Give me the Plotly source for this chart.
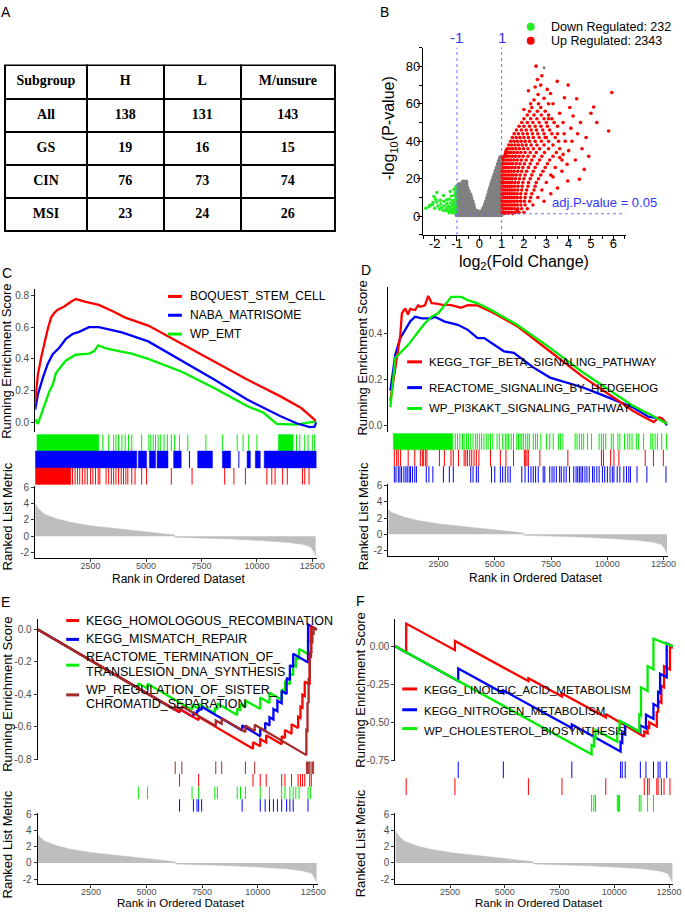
import plotly.graph_objects as go

W, H = 685, 913
def X(px): return px / W
def Y(py): return 1 - py / H

# ---------------- DATA ----------------
TABLE_HEADER = ["Subgroup", "H", "L", "M/unsure"]
TABLE_GROUPS = ["All", "GS", "CIN", "MSI"]
TABLE_H = [138, 19, 76, 23]
TABLE_L = [131, 16, 73, 24]
TABLE_M = [143, 15, 74, 26]

DOWN_N, UP_N = 232, 2343
FC_CUT = 1
P_LINE = 1.3  # -log10(0.05)
VOLC_XTICKS = [-2, -1, 0, 1, 2, 3, 4, 5, 6]
VOLC_YTICKS = [0, 20, 40, 60, 80]

VOLC_GRAY = (
    [(x, 0.8) for x in [-1.0, -0.85, -0.7, -0.55, -0.4, -0.25, -0.12, 0.0]] +
    [(x, 2.5) for x in [-0.95, -0.8, -0.65, -0.5, -0.35, -0.2, -0.08]] +
    [(x, 4.3) for x in [-1.0, -0.85, -0.7, -0.55, -0.4, -0.25]] +
    [(x, 6.1) for x in [-0.95, -0.8, -0.65, -0.5, -0.35, -0.28]] +
    [(x, 7.9) for x in [-1.0, -0.85, -0.7, -0.55, -0.4, -0.32]] +
    [(x, 9.7) for x in [-0.95, -0.8, -0.65, -0.5, -0.38]] +
    [(x, 11.5) for x in [-1.0, -0.85, -0.7, -0.55, -0.42]] +
    [(x, 13.3) for x in [-0.95, -0.8, -0.65, -0.5]] +
    [(x, 15.1) for x in [-0.98, -0.85, -0.7, -0.56]] +
    [(x, 16.9) for x in [-0.9, -0.75, -0.6]] +
    [(x, 18.3) for x in [-0.72, -0.6]] +
    [(x, 0.8) for x in [0.12, 0.27, 0.42, 0.57, 0.72, 0.87, 0.98]] +
    [(x, 2.5) for x in [0.12, 0.25, 0.4, 0.55, 0.7, 0.85, 0.98]] +
    [(x, 4.3) for x in [0.2, 0.33, 0.48, 0.63, 0.78, 0.92]] +
    [(x, 6.1) for x in [0.27, 0.4, 0.55, 0.7, 0.85, 0.98]] +
    [(x, 7.9) for x in [0.32, 0.45, 0.6, 0.75, 0.9]] +
    [(x, 9.7) for x in [0.37, 0.5, 0.65, 0.8, 0.95]] +
    [(x, 11.5) for x in [0.42, 0.55, 0.7, 0.85, 0.98]] +
    [(x, 13.3) for x in [0.46, 0.6, 0.75, 0.9]] +
    [(x, 15.1) for x in [0.5, 0.64, 0.78, 0.93]] +
    [(x, 16.9) for x in [0.55, 0.68, 0.82, 0.96]] +
    [(x, 18.7) for x in [0.6, 0.73, 0.87, 0.98]] +
    [(x, 20.5) for x in [0.65, 0.78, 0.92]] +
    [(x, 22.3) for x in [0.7, 0.83, 0.96]] +
    [(x, 24.1) for x in [0.75, 0.88, 0.98]] +
    [(x, 25.9) for x in [0.8, 0.93]] +
    [(x, 27.7) for x in [0.85, 0.97]] +
    [(x, 29.5) for x in [0.9, 0.98]] +
    [(0.95, 31.3)]
)
VOLC_GRAY_OUTLIER = [(2.9, 79.3)]

VOLC_GREEN = [(-2.39, 4.3), (-2.25, 5.0), (-2.21, 5.8), (-2.1, 6.2), (-2.07, 7.3), (-2.0, 4.2),
              (-1.96, 9.1), (-1.9, 12.6), (-2.03, 10.5), (-1.85, 5.5), (-1.78, 3.9), (-1.72, 6.5),
              (-1.68, 4.8), (-1.62, 3.2), (-1.58, 8.0), (-1.55, 5.6), (-1.5, 2.9), (-1.47, 4.1),
              (-1.44, 6.8), (-1.4, 3.3), (-1.38, 5.2), (-1.35, 9.0), (-1.33, 2.5), (-1.3, 4.5),
              (-1.28, 7.0), (-1.25, 10.8), (-1.24, 3.0), (-1.22, 5.6), (-1.2, 8.2), (-1.18, 2.2),
              (-1.16, 4.0), (-1.15, 6.3), (-1.13, 14.4), (-1.12, 11.0), (-1.11, 3.2), (-1.1, 7.4),
              (-1.08, 5.0), (-1.07, 12.5), (-1.06, 9.0), (-1.05, 2.6), (-1.04, 16.0), (-1.03, 6.5),
              (-1.02, 4.0), (-1.01, 13.5), (-1.01, 10.0), (-1.3, 13.2), (-1.45, 8.8), (-1.6, 11.0),
              (-1.75, 8.5), (-1.9, 7.6), (-1.1, 2.0), (-1.2, 1.8), (-1.35, 1.9), (-1.06, 3.8)]

VOLC_RED_ROWS = {
    2: [1.02, 1.1, 1.18, 1.27, 1.36, 1.47, 1.6, 1.78, 2.0],
    4: [1.02, 1.1, 1.18, 1.27, 1.36, 1.46, 1.58, 1.72, 1.9, 2.15],
    6: [1.02, 1.1, 1.18, 1.27, 1.36, 1.46, 1.57, 1.7, 1.86, 2.05, 2.4],
    8: [1.02, 1.1, 1.18, 1.27, 1.36, 1.46, 1.57, 1.7, 1.85, 2.02, 2.25],
    10: [1.02, 1.1, 1.18, 1.27, 1.36, 1.46, 1.57, 1.7, 1.85, 2.05, 2.3, 2.62],
    12: [1.02, 1.1, 1.18, 1.27, 1.36, 1.46, 1.57, 1.7, 1.86, 2.08, 2.35],
    14: [1.02, 1.1, 1.18, 1.27, 1.36, 1.46, 1.57, 1.72, 1.9, 2.12, 2.45, 2.8],
    16: [1.02, 1.1, 1.18, 1.27, 1.36, 1.46, 1.58, 1.73, 1.92, 2.18, 2.5],
    18: [1.02, 1.1, 1.18, 1.27, 1.36, 1.46, 1.6, 1.75, 1.95, 2.2, 2.55, 3.0],
    20: [1.02, 1.1, 1.18, 1.27, 1.36, 1.47, 1.62, 1.8, 2.0, 2.28, 2.65],
    22: [1.02, 1.1, 1.19, 1.29, 1.4, 1.52, 1.66, 1.83, 2.05, 2.35, 2.75, 3.2],
    24: [1.02, 1.1, 1.2, 1.31, 1.43, 1.56, 1.72, 1.9, 2.12, 2.42, 2.85],
    26: [1.03, 1.12, 1.22, 1.33, 1.46, 1.6, 1.76, 1.95, 2.2, 2.5, 2.95, 3.4],
    28: [1.05, 1.15, 1.26, 1.38, 1.5, 1.65, 1.82, 2.02, 2.28, 2.6, 3.05],
    30: [1.08, 1.18, 1.3, 1.42, 1.55, 1.7, 1.88, 2.1, 2.35, 2.7, 3.15, 3.7],
    32: [1.12, 1.23, 1.35, 1.48, 1.62, 1.78, 1.96, 2.18, 2.45, 2.8, 3.3],
    34: [1.18, 1.3, 1.42, 1.55, 1.7, 1.86, 2.05, 2.28, 2.55, 2.92, 3.45],
    36: [1.25, 1.37, 1.5, 1.64, 1.8, 1.98, 2.18, 2.42, 2.7, 3.1, 3.6],
    38: [1.32, 1.45, 1.6, 1.75, 1.92, 2.1, 2.32, 2.58, 2.9, 3.3],
    40: [1.4, 1.55, 1.7, 1.87, 2.05, 2.25, 2.5, 2.78, 3.1, 3.55],
    42: [1.48, 1.65, 1.82, 2.0, 2.2, 2.42, 2.68, 3.0, 3.4],
    44: [1.56, 1.75, 1.95, 2.15, 2.38, 2.62, 2.9, 3.25, 3.8],
    46: [1.66, 1.88, 2.1, 2.32, 2.56, 2.84, 3.15],
    48: [1.78, 2.0, 2.25, 2.5, 2.76, 3.05, 3.5],
    50: [1.9, 2.15, 2.4, 2.68, 3.0, 3.35],
    52: [2.0, 2.3, 2.58, 2.9, 3.25],
    54: [2.15, 2.45, 2.78, 3.1],
    56: [2.25, 2.6, 2.95],
    58: [2.35, 2.75],
    60: [2.3, 2.65, 3.1],
}
VOLC_RED_SCATTER = [(2.54, 80.1), (2.6, 73), (2.8, 75), (2.75, 70), (3.49, 72), (3.98, 70), (2.2, 67),
                    (2.63, 65), (3.04, 67.7), (5.93, 66), (3.19, 65.5), (4.36, 62.7), (3.81, 63.2),
                    (5.12, 58.3), (5.26, 50), (5.79, 45.5), (4.78, 42), (4.53, 50), (4.2, 53.5), (4.1, 47),
                    (4.48, 19.7), (3.96, 18.8), (3.93, 27.7), (3.6, 31.3), (4.6, 36), (4.3, 30), (3.7, 24),
                    (3.5, 44), (3.85, 40), (4.0, 35), (3.2, 12), (3.5, 15), (2.9, 8), (3.3, 21), (3.6, 55),
                    (3.3, 60), (2.45, 62), (2.9, 63), (4.05, 58), (3.75, 50), (4.4, 44), (4.9, 32), (5.0, 55),
                    (2.0, 57), (2.5, 69), (3.1, 52), (2.95, 42), (4.7, 25), (3.75, 33), (4.15, 40),
                    (1.15, 1.5), (1.3, 1.6), (1.5, 1.4), (1.7, 2.8), (1.06, 31.5), (1.2, 35), (1.16, 33)]

# Ranked list metric (shared by all GSEA panels)
METRIC_RANK = [0, 200, 420, 1010, 1600, 2560, 3820, 5000, 6290, 6300, 7500, 8800, 10150, 11300, 12050, 12420, 12570, 12650]
METRIC_VAL = [4.0, 3.2, 2.7, 2.1, 1.7, 1.27, 0.9, 0.57, 0.16, -0.12, -0.2, -0.33, -0.53, -0.73, -0.98, -1.27, -1.9, -2.4]
RANK_TICKS = [2500, 5000, 7500, 10000, 12500]
METRIC_TICKS = [-2, 0, 2, 4, 6]

# Panel C
C_NAMES = ["BOQUEST_STEM_CELL", "NABA_MATRISOME", "WP_EMT"]
C_RED_R = [0, 122, 272, 420, 569, 718, 867, 1016, 1313, 1610, 1832, 2278, 2871, 3500, 4061, 5100, 6586, 8073, 9559, 11044, 12000, 12650]
C_RED_ES = [0.13, 0.30, 0.41, 0.505, 0.59, 0.66, 0.69, 0.71, 0.73, 0.76, 0.777, 0.76, 0.74, 0.70, 0.66, 0.61, 0.495, 0.38, 0.27, 0.165, 0.09, 0.01]
C_BLUE_R = [0, 122, 345, 569, 790, 1088, 1386, 1683, 1981, 2427, 2871, 3911, 5100, 6586, 8073, 9559, 11044, 11787, 12381, 12604, 12680]
C_BLUE_ES = [0.08, 0.175, 0.28, 0.37, 0.43, 0.47, 0.526, 0.557, 0.57, 0.60, 0.60, 0.567, 0.51, 0.39, 0.27, 0.144, 0.04, -0.006, -0.03, -0.027, 0.0]
C_GREEN_R = [0, 122, 272, 420, 642, 790, 939, 1162, 1386, 1832, 2427, 2650, 2845, 3172, 3614, 4358, 5100, 6586, 8073, 9559, 10300, 10895, 11787, 12381, 12680]
C_GREEN_ES = [0.02, -0.01, 0.05, 0.11, 0.196, 0.237, 0.31, 0.35, 0.39, 0.426, 0.433, 0.447, 0.485, 0.468, 0.453, 0.433, 0.40, 0.32, 0.216, 0.103, 0.06, -0.01, -0.014, 0.0, 0.005]
C_GREEN_HITS = [3049, 3316, 3539, 3643, 3762, 3911, 4059, 4208, 4357, 4802, 5129, 5218, 5323, 5427, 5545, 5664, 5813, 5961,
                6140, 6288, 6511, 6883, 7700, 8443, 9112, 9379, 9632, 10003, 11787, 11935, 12158, 12307, 12500, 12604]
C_GREEN_BLOCKS = [(80, 2870), (10969, 11638)]
C_BLUE_HITS = [6957, 9186]
C_BLUE_BLOCKS = [(0, 4580), (4654, 5025), (5150, 5430), (5500, 5991), (6244, 6586), (7329, 7997), (8443, 8815),
                 (9558, 9706), (9929, 10152), (10330, 12680)]
C_RED_HITS = [1682, 1801, 1905, 2009, 2128, 2246, 2351, 2499, 2603, 2722, 2841, 2915, 3198, 3316, 3435, 3539, 3643, 3762,
              3881, 3985, 4089, 4178, 4357, 4505, 4802, 5025, 6140, 7076, 8547, 8963, 9483, 10449, 10672, 10821, 11162,
              11371, 12054, 12158, 12351]
C_RED_BLOCKS = [(0, 1608)]

# Panel D
D_NAMES = ["KEGG_TGF_BETA_SIGNALING_PATHWAY", "REACTOME_SIGNALING_BY_HEDGEHOG", "WP_PI3KAKT_SIGNALING_PATHWAY"]
D_RED_R = [367, 587, 806, 879, 1025, 1150, 1250, 1464, 1600, 1683, 1902, 2049, 2200, 2341, 2633, 3072, 3500, 3803, 4242, 4973, 5996, 7458, 8920, 10382, 11113, 11625, 12063, 12300, 12429, 12648]
D_RED_ES = [0.107, 0.25, 0.39, 0.486, 0.507, 0.48, 0.505, 0.50, 0.52, 0.514, 0.52, 0.561, 0.53, 0.529, 0.523, 0.521, 0.51, 0.521, 0.52, 0.486, 0.43, 0.32, 0.21, 0.114, 0.064, 0.036, 0.014, 0.035, 0.03, 0.007]
D_BLUE_R = [367, 587, 806, 1025, 1245, 1464, 1756, 2195, 2341, 2780, 3364, 3803, 4242, 4534, 4973, 5411, 5850, 6727, 7458, 8189, 8920, 9651, 10382, 11113, 11844, 12429, 12648]
D_BLUE_ES = [0.15, 0.307, 0.378, 0.414, 0.45, 0.471, 0.464, 0.464, 0.471, 0.45, 0.436, 0.414, 0.378, 0.378, 0.35, 0.321, 0.314, 0.25, 0.207, 0.186, 0.164, 0.136, 0.107, 0.079, 0.036, 0.029, 0.0]
D_GREEN_R = [367, 587, 879, 1172, 1611, 1902, 2195, 2487, 2780, 3072, 3511, 3803, 4242, 4973, 5996, 7458, 8920, 10382, 11113, 11844, 12648]
D_GREEN_ES = [0.079, 0.293, 0.321, 0.35, 0.407, 0.443, 0.471, 0.486, 0.521, 0.557, 0.557, 0.543, 0.529, 0.493, 0.436, 0.336, 0.229, 0.136, 0.086, 0.05, 0.007]
D_GREEN_HITS = [3248, 3351, 3453, 3570, 3643, 3745, 3833, 3935, 4038, 4155, 4228, 4330, 4418, 4520, 4622, 4710, 4813, 4915,
                5105, 5207, 5354, 5471, 5544, 5617, 5734, 5836, 5982, 6055, 6128, 6201, 6274, 6377, 6465, 6538, 6713, 6816,
                6903, 7049, 7298, 7444, 7598, 7839, 7927, 8029, 8570, 8657, 8760, 8862, 8950, 9125, 9301, 9637, 9739, 9827,
                9929, 10178, 10266, 10470, 10558, 10763, 10909, 11000, 11099, 11289, 11392, 11611, 11932, 12020, 12122,
                12225, 12415, 12634]
D_GREEN_BLOCKS = [(500, 3131)]
D_RED_HITS = [543, 646, 719, 821, 1158, 1450, 1698, 1786, 1845, 1932, 1991, 2546, 2766, 3058, 3160, 3394, 3643, 3716, 3789,
              3891, 3979, 4082, 4184, 4301, 4813, 5251, 5500, 5836, 6318, 6377, 6435, 6494, 7006, 8248, 9739, 9827, 10149,
              10295, 10514, 11684, 12049, 12488]
D_BLUE_HITS = [543, 617, 719, 792, 865, 967, 1055, 1114, 1201, 1260, 1348, 1450, 1523, 1962, 2079, 2254, 2722, 2985, 3160,
               3935, 4038, 4184, 4272, 4856, 5003, 5251, 5354, 5471, 5588, 5690, 6201, 6348, 6494, 6611, 6713, 6816, 6933,
               7152, 7225, 7444, 7547, 7634, 7737, 7883, 7956, 8073, 8175, 8321, 8511, 8614, 8687, 8760, 8833, 8906, 9009,
               9096, 9198, 9345, 9418, 9535, 9637, 9783, 9885, 10003, 10120, 10222, 10295, 10441, 10558, 10734, 10851,
               10953, 11026, 11319, 11757, 12605]

# Panel E
E_NAMES = ["KEGG_HOMOLOGOUS_RECOMBINATION", "KEGG_MISMATCH_REPAIR",
           "REACTOME_TERMINATION_OF_<br>TRANSLESION_DNA_SYNTHESIS", "WP_REGULATION_OF_SISTER_<br>CHROMATID_SEPARATION"]
E_BROWN_R = [113, 6291, 6291, 6589, 6589, 8114, 8114, 8381, 8381, 9447, 9447, 9864, 9864, 12189, 12189, 12240, 12240,
             12290, 12290, 12340, 12340, 12400, 12400, 12460, 12460, 12514, 12514, 12660]
E_BROWN_ES = [0, -0.499, -0.474, -0.498, -0.473, -0.596, -0.561, -0.582, -0.547, -0.633, -0.593, -0.627, -0.587, -0.775,
              -0.62, -0.624, -0.45, -0.454, -0.30, -0.304, -0.17, -0.175, -0.08, -0.085, -0.02, -0.024, 0.01, 0.0]
E_RED_R = [113, 6486, 6486, 7344, 7344, 9789, 9789, 10114, 10114, 10381, 10381, 11078, 11078, 11226, 11226, 11522, 11522,
           11819, 11819, 11922, 11922, 12011, 12011, 12115, 12115, 12337, 12337, 12411, 12411, 12660]
E_RED_ES = [0, -0.5105, -0.4905, -0.5592, -0.5392, -0.735, -0.695, -0.721, -0.676, -0.697, -0.652, -0.708, -0.658, -0.670,
            -0.620, -0.644, -0.584, -0.608, -0.538, -0.546, -0.476, -0.483, -0.403, -0.411, -0.321, -0.339, -0.139,
            -0.145, 0.015, 0.0]
E_BLUE_R = [113, 6486, 6486, 7108, 7108, 7270, 7270, 7344, 7344, 7478, 7478, 9300, 9300, 10114, 10114, 10336, 10336,
            10530, 10530, 10707, 10707, 10885, 10885, 11078, 11078, 11300, 11300, 11448, 11448, 11596, 11596, 12264,
            12264, 12660]
E_BLUE_ES = [0, -0.5105, -0.49, -0.54, -0.51, -0.523, -0.50, -0.506, -0.486, -0.497, -0.477, -0.623, -0.593, -0.658,
             -0.608, -0.626, -0.576, -0.592, -0.542, -0.556, -0.49, -0.504, -0.44, -0.455, -0.38, -0.398, -0.30, -0.312,
             -0.22, -0.232, -0.15, -0.2035, 0.03, 0.0]
E_GREEN_R = [113, 4633, 4633, 5048, 5048, 7047, 7047, 7344, 7344, 8070, 8070, 8189, 8189, 9078, 9078, 9226, 9226, 9447,
             9447, 10114, 10114, 10530, 10530, 11078, 11078, 11226, 11226, 11448, 11448, 11596, 11596, 11714, 11714,
             11863, 11863, 12264, 12264, 12367, 12367, 12660]
E_GREEN_ES = [0, -0.362, -0.332, -0.365, -0.335, -0.495, -0.465, -0.489, -0.459, -0.517, -0.482, -0.492, -0.457, -0.528,
              -0.488, -0.500, -0.460, -0.478, -0.438, -0.491, -0.42, -0.453, -0.39, -0.434, -0.37, -0.382, -0.32, -0.338,
              -0.27, -0.282, -0.22, -0.229, -0.17, -0.182, -0.12, -0.152, -0.07, -0.078, 0.01, 0.0]
E_BROWN_HITS = [6291, 6589, 8114, 8381, 9447, 9864, 12189, 12240, 12290, 12340, 12400, 12460, 12514]
E_RED_HITS = [6486, 7344, 9789, 10114, 10381, 11078, 11226, 11522, 11819, 11922, 12011, 12115, 12337, 12411]
E_GREEN_HITS = [4633, 5048, 7047, 7344, 8070, 8189, 9078, 9226, 9447, 10114, 10530, 11078, 11226, 11448, 11596, 11714,
                11863, 12264, 12367]
E_BLUE_HITS = [6486, 7108, 7270, 7344, 7478, 9300, 10114, 10336, 10530, 10707, 10885, 11078, 11300, 11448, 11596, 12264]

# Panel F
F_NAMES = ["KEGG_LINOLEIC_ACID_METABOLISM", "KEGG_NITROGEN_METABOLISM", "WP_CHOLESTEROL_BIOSYNTHESIS"]
F_RED_R = [0, 496, 496, 2721, 2721, 6076, 6076, 7609, 7609, 9608, 9608, 11367, 11367, 11518, 11518, 11592, 11592, 11938,
           11938, 11998, 11998, 12148, 12148, 12269, 12269, 12540, 12540, 12680]
F_RED_ES = [0, -0.039, 0.15, -0.025, 0.035, -0.229, -0.21, -0.331, -0.31, -0.467, -0.445, -0.595, -0.56, -0.572, -0.53,
            -0.536, -0.50, -0.528, -0.43, -0.435, -0.36, -0.372, -0.26, -0.27, -0.13, -0.152, 0.0, -0.01]
F_BLUE_R = [0, 2872, 2872, 4931, 4931, 8058, 8058, 10285, 10285, 10360, 10360, 10496, 10496, 11186, 11186, 11443, 11443,
            11786, 11786, 11998, 11998, 12088, 12088, 12390, 12390, 12680]
F_BLUE_ES = [0, -0.228, -0.146, -0.309, -0.29, -0.538, -0.515, -0.692, -0.63, -0.636, -0.57, -0.581, -0.51, -0.565, -0.52,
             -0.54, -0.45, -0.477, -0.38, -0.397, -0.30, -0.307, -0.18, -0.204, 0.02, 0.0]
F_GREEN_R = [0, 8961, 8961, 9066, 9066, 9141, 9141, 10134, 10134, 10194, 10194, 10239, 10239, 11141, 11141, 11216, 11216,
             11518, 11518, 11786, 11786, 12680]
F_GREEN_ES = [0, -0.711, -0.65, -0.658, -0.60, -0.606, -0.55, -0.629, -0.57, -0.575, -0.53, -0.534, -0.49, -0.562, -0.45,
              -0.456, -0.27, -0.294, -0.13, -0.151, 0.05, 0.0]
F_BLUE_HITS = [2872, 4931, 8058, 10285, 10360, 10496, 11186, 11443, 11786, 11998, 12088, 12390]
F_RED_HITS = [496, 2721, 6076, 7609, 9608, 11367, 11518, 11592, 11938, 11998, 12148, 12269, 12540]
F_GREEN_HITS = [8961, 9066, 9141, 10134, 10194, 10239, 11141, 11216, 11518, 11786]

# ---------------- STYLE ----------------
RED, BLUE, GREEN, BROWN = "#FF0000", "#0000FF", "#00EE00", "#A52A2A"
FONT = "Liberation Sans"
TICK_COL = "#4d4d4d"

fig = go.Figure()
axes = {}
annotations = []
shapes = []

def ax_keys(n):
    return ("xaxis" if n == 1 else f"xaxis{n}", "yaxis" if n == 1 else f"yaxis{n}",
            "x" if n == 1 else f"x{n}", "y" if n == 1 else f"y{n}")

def set_axes(n, xdom, xr, ydom, yr, xkw=None, ykw=None):
    xk, yk, xs, ys = ax_keys(n)
    xa = dict(domain=[X(xdom[0]), X(xdom[1])], range=xr, anchor=ys, showgrid=False, zeroline=False,
              showline=False, showticklabels=False, ticks="", fixedrange=True)
    ya = dict(domain=[Y(ydom[1]), Y(ydom[0])], range=yr, anchor=xs, showgrid=False, zeroline=False,
              showline=False, showticklabels=False, ticks="", fixedrange=True)
    if xkw: xa.update(xkw)
    if ykw: ya.update(ykw)
    axes[xk] = xa
    axes[yk] = ya
    return xs, ys

def text(x, y, s, size=12, color="black", xanchor="left", angle=0, family=FONT):
    annotations.append(dict(x=X(x), y=Y(y), xref="paper", yref="paper", text=s, showarrow=False,
                            xanchor=xanchor, yanchor="middle", textangle=angle,
                            font=dict(family=family, size=size, color=color)))

# ---------------- Panel A: table ----------------
fig.add_trace(go.Table(
    domain=dict(x=[X(5), X(339)], y=[Y(245), Y(62)]),
    columnwidth=[83, 77, 78, 95],
    header=dict(values=[f"<b>{h}</b>" for h in TABLE_HEADER], height=34, align="center",
                line=dict(color="black", width=2), fill=dict(color="white"),
                font=dict(family="Liberation Serif", size=14, color="black")),
    cells=dict(values=[[f"<b>{v}</b>" for v in col] for col in [TABLE_GROUPS, TABLE_H, TABLE_L, TABLE_M]],
               height=33, align="center", line=dict(color="black", width=2), fill=dict(color="white"),
               font=dict(family="Liberation Serif", size=14, color="black"))))

# ---------------- Panel B: volcano ----------------
vx, vy = set_axes(1, (428, 633), [-2.52, 6.55], (44, 233), [-10, 90],
                  xkw=dict(showline=True, linecolor="black", linewidth=1.3, ticks="outside", ticklen=5,
                           tickwidth=1.2, tickcolor="black", showticklabels=True,
                           tickvals=VOLC_XTICKS, ticktext=[str(v) for v in VOLC_XTICKS],
                           ticklabelstandoff=-9,
                           tickfont=dict(family=FONT, size=13, color="black"),
                           minor=dict(tickmode="linear", dtick=0.5, tick0=0, ticks="outside", ticklen=3,
                                      tickcolor="black")),
                  ykw=dict(showline=True, linecolor="black", linewidth=1.3, ticks="outside", ticklen=5,
                           tickwidth=1.2, tickcolor="black", showticklabels=True,
                           tickvals=VOLC_YTICKS, ticktext=[str(v) for v in VOLC_YTICKS],
                           ticklabelstandoff=-6,
                           tickfont=dict(family=FONT, size=13, color="black"),
                           minor=dict(tickmode="linear", dtick=10, tick0=0, ticks="outside", ticklen=3,
                                      tickcolor="black")))
fig.add_trace(go.Scatter(x=[p[0] for p in VOLC_GRAY], y=[p[1] for p in VOLC_GRAY], mode="markers",
                         marker=dict(color="#808080", size=5, line=dict(width=0)), xaxis=vx, yaxis=vy))
fig.add_trace(go.Scatter(x=[p[0] for p in VOLC_GRAY_OUTLIER], y=[p[1] for p in VOLC_GRAY_OUTLIER], mode="markers",
                         marker=dict(color="#808080", size=3, line=dict(width=0)), xaxis=vx, yaxis=vy))
fig.add_trace(go.Scatter(x=[p[0] for p in VOLC_GREEN], y=[p[1] for p in VOLC_GREEN], mode="markers",
                         marker=dict(color="#22EE22", size=3.5, line=dict(width=0)), xaxis=vx, yaxis=vy))
red_pts = [(x, yv) for yv, xs in VOLC_RED_ROWS.items() for x in xs] + VOLC_RED_SCATTER
fig.add_trace(go.Scatter(x=[p[0] for p in red_pts], y=[p[1] for p in red_pts], mode="markers",
                         marker=dict(color="#FF0000", size=3.6, line=dict(width=0)), xaxis=vx, yaxis=vy))
for v in (-FC_CUT, FC_CUT):
    shapes.append(dict(type="line", xref="x", yref="y domain", x0=v, x1=v, y0=0, y1=1,
                       line=dict(color="#7070ff", width=1, dash="dot"), layer="above"))
shapes.append(dict(type="line", xref="x", yref="y", x0=-FC_CUT, x1=6.55, y0=P_LINE, y1=P_LINE,
                   line=dict(color="#7070ff", width=1, dash="dot"), layer="above"))
text(462, 34, "-1", 15, "#3535ff", "center")
text(508, 34, "1", 15, "#3535ff", "center")
text(557, 200, "adj.P-value = 0.05", 13, "#3535ff")
shapes.append(dict(type="circle", xref="paper", yref="paper", x0=X(533), x1=X(541), y0=Y(27), y1=Y(19),
                   fillcolor="#22EE22", line=dict(width=0)))
shapes.append(dict(type="circle", xref="paper", yref="paper", x0=X(533), x1=X(541), y0=Y(41), y1=Y(33),
                   fillcolor="#FF0000", line=dict(width=0)))
text(555, 23, f"Down Regulated: {DOWN_N}", 12.5)
text(555, 37, f"Up Regulated: {UP_N}", 12.5)
text(395, 125, "-log<sub>10</sub>(P-value)", 16, angle=-90, xanchor="center")
text(530, 261, "log<sub>2</sub>(Fold Change)", 16, xanchor="center")

# ---------------- GSEA helper ----------------
def gsea(n0, xdom, xr, es_dom, es_rng, es_ticks, es_fmt, rug_dom, rug_rows, met_dom, met_rng, curves, xstand=-4):
    es_kw = dict(showline=True, linecolor="black", linewidth=1, ticks="outside", ticklen=3, tickcolor="#333333",
                 showticklabels=True, tickvals=es_ticks, ticktext=[format(v, es_fmt) for v in es_ticks],
                 tickfont=dict(family=FONT, size=10, color=TICK_COL))
    ex, ey = set_axes(n0, xdom, xr, es_dom, es_rng, ykw=es_kw)
    rx, ry = set_axes(n0 + 1, xdom, xr, rug_dom, [0, len(rug_rows)])
    mx_kw = dict(showline=True, linecolor="black", linewidth=1, ticks="outside", ticklen=3, tickcolor="#333333",
                 showticklabels=True, tickvals=RANK_TICKS, ticktext=[str(t) for t in RANK_TICKS],
                 ticklabelstandoff=xstand, tickfont=dict(family=FONT, size=9, color=TICK_COL))
    my_kw = dict(showline=True, linecolor="black", linewidth=1, ticks="outside", ticklen=3, tickcolor="#333333",
                 showticklabels=True, tickvals=METRIC_TICKS, ticktext=[str(t) for t in METRIC_TICKS],
                 tickfont=dict(family=FONT, size=10, color=TICK_COL))
    mx, my = set_axes(n0 + 2, xdom, xr, met_dom, met_rng, xkw=mx_kw, ykw=my_kw)
    fig.add_trace(go.Scatter(x=METRIC_RANK, y=METRIC_VAL, mode="lines", fill="tozeroy", fillcolor="#BEBEBE",
                             line=dict(color="#BEBEBE", width=0.5), xaxis=mx, yaxis=my))
    nrow = len(rug_rows)
    for i, (hits, blocks, col) in enumerate(rug_rows):
        lo, hi = nrow - 1 - i, nrow - i
        if blocks:
            bx, by = [], []
            for a, b in blocks:
                bx += [a, b, b, a, a, None]
                by += [lo, lo, hi, hi, lo, None]
            fig.add_trace(go.Scatter(x=bx, y=by, mode="lines", fill="toself", fillcolor=col,
                                     line=dict(color=col, width=0.5), xaxis=rx, yaxis=ry))
        tx, ty = [], []
        for r in hits:
            tx += [r, r, None]
            ty += [lo, hi, None]
        fig.add_trace(go.Scatter(x=tx, y=ty, mode="lines", line=dict(color=col, width=1), xaxis=rx, yaxis=ry))
    for r, es, col in curves:
        fig.add_trace(go.Scatter(x=r, y=es, mode="lines", line=dict(color=col, width=2.3), xaxis=ex, yaxis=ey))

def legend(entries, x_line, x_text, size):
    for ys_mark, lines_y, label, col in entries:
        shapes.append(dict(type="line", xref="paper", yref="paper", x0=X(x_line[0]), x1=X(x_line[1]),
                           y0=Y(ys_mark), y1=Y(ys_mark), line=dict(color=col, width=3)))
        parts = label.split("<br>")
        for yy, p in zip(lines_y, parts):
            text(x_text, yy, p, size)

# Panel C
gsea(2, (35.6, 320.5), [0, 12700], (288, 432), [-0.0625, 0.8375], [0, 0.2, 0.4, 0.6, 0.8], ".1f",
     (434, 485), [(C_GREEN_HITS, C_GREEN_BLOCKS, GREEN), (C_BLUE_HITS, C_BLUE_BLOCKS, BLUE),
                  (C_RED_HITS, C_RED_BLOCKS, RED)],
     (486, 559), [-2.67, 6.18],
     [(C_GREEN_R, C_GREEN_ES, GREEN), (C_BLUE_R, C_BLUE_ES, BLUE), (C_RED_R, C_RED_ES, RED)])
legend([(295, [295], C_NAMES[0], RED), (314, [314], C_NAMES[1], BLUE), (333, [333], C_NAMES[2], GREEN)],
       (170, 184), 190, 12)
text(7, 360, "Running Enrichment Score", 13, angle=-90, xanchor="center")
text(8, 517, "Ranked List Metric", 13, angle=-90, xanchor="center")
text(181, 580, "Rank in Ordered Dataset", 12, xanchor="center")

# Panel D
gsea(5, (393, 676), [280, 12700], (285, 432), [-0.030, 0.602], [0, 0.2, 0.4], ".1f",
     (433, 483), [(D_GREEN_HITS, D_GREEN_BLOCKS, GREEN), (D_RED_HITS, None, RED), (D_BLUE_HITS, None, BLUE)],
     (484, 557), [-2.69, 6.24],
     [(D_BLUE_R, D_BLUE_ES, BLUE), (D_RED_R, D_RED_ES, RED), (D_GREEN_R, D_GREEN_ES, GREEN)])
legend([(361, [361], D_NAMES[0], RED), (387, [387], D_NAMES[1], BLUE), (408, [408], D_NAMES[2], GREEN)],
       (412, 427), 432, 11.5)
text(367, 357, "Running Enrichment Score", 13, angle=-90, xanchor="center")
text(368, 517, "Ranked List Metric", 13, angle=-90, xanchor="center")
text(542, 579, "Rank in Ordered Dataset", 12, xanchor="center")

# Panel E
gsea(8, (38, 321.5), [100, 12700], (620, 763), [-0.807, 0.067], [0, -0.2, -0.4, -0.6, -0.8], ".1f",
     (764, 815), [(E_BROWN_HITS, None, BROWN), (E_RED_HITS, None, RED), (E_GREEN_HITS, None, GREEN),
                  (E_BLUE_HITS, None, BLUE)],
     (816, 888), [-2.63, 6.2],
     [(E_GREEN_R, E_GREEN_ES, GREEN), (E_BLUE_R, E_BLUE_ES, BLUE), (E_RED_R, E_RED_ES, RED),
      (E_BROWN_R, E_BROWN_ES, BROWN)])
legend([(622, [622], E_NAMES[0], RED), (641, [641], E_NAMES[1], BLUE),
        (667, [659, 674], E_NAMES[2], GREEN), (697, [692, 706], E_NAMES[3], BROWN)],
       (67, 80), 85, 12.5)
text(8, 696, "Running Enrichment Score", 13, angle=-90, xanchor="center")
text(8, 848, "Ranked List Metric", 13, angle=-90, xanchor="center")
text(183, 906.5, "Rank in Ordered Dataset", 11.5, xanchor="center")

# Panel F
gsea(11, (400, 681), [0, 12680], (620, 764), [-0.757, 0.183], [0, -0.25, -0.5, -0.75], ".2f",
     (764, 815), [(F_BLUE_HITS, None, BLUE), (F_RED_HITS, None, RED), (F_GREEN_HITS, None, GREEN)],
     (816, 888), [-2.63, 6.2],
     [(F_RED_R, F_RED_ES, RED), (F_BLUE_R, F_BLUE_ES, BLUE), (F_GREEN_R, F_GREEN_ES, GREEN)])
legend([(691, [692], F_NAMES[0], RED), (712, [713], F_NAMES[1], BLUE), (731, [733], F_NAMES[2], GREEN)],
       (407, 422), 427, 11.5)
text(365, 692, "Running Enrichment Score", 13, angle=-90, xanchor="center")
text(365, 847, "Ranked List Metric", 13, angle=-90, xanchor="center")
text(545, 906.5, "Rank in Ordered Dataset", 11.5, xanchor="center")

# Panel letters
for lab, (px, py) in {"A": (6, 8), "B": (389, 8), "C": (7, 271), "D": (370, 268), "E": (6, 603), "F": (365, 602)}.items():
    text(px, py, lab, 14, xanchor="center")

fig.update_traces(selector=dict(type="scatter"), showlegend=False, hoverinfo="skip")
fig.update_layout(width=W, height=H, autosize=False, margin=dict(l=0, r=0, t=0, b=0),
                  paper_bgcolor="white", plot_bgcolor="white", showlegend=False,
                  font=dict(family=FONT), annotations=annotations, shapes=shapes, **axes)
fig.write_html("out.html", config={"displayModeBar": False},
               post_script="document.body.style.margin='0px';document.body.style.overflow='hidden';")
